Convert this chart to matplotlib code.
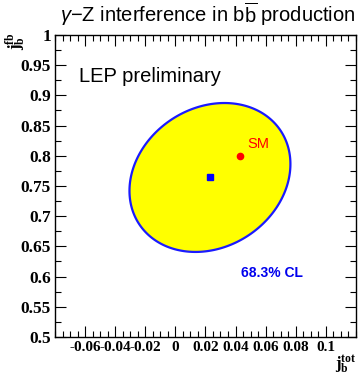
# gamma-Z interference in b bbar production: LEP 68.3% CL contour
import numpy as np
import matplotlib
matplotlib.use('Agg')
import matplotlib.pyplot as plt
from matplotlib.ticker import MultipleLocator

# -----------------------------
# Data
# -----------------------------
fit_center = [0.023, 0.764]     # measured (j_b^tot, j_b^fb)
fit_sigma = [0.0535, 0.1233]    # 68.3% CL half-extent in x and y
fit_rho = 0.18                  # correlation
sm_point = [0.043, 0.800]       # Standard Model
x_ticks = [-0.06, -0.04, -0.02, 0, 0.02, 0.04, 0.06, 0.08, 0.1]
x_tick_labels = ['-0.06', '-0.04', '-0.02', '0', '0.02', '0.04', '0.06', '0.08', '0.1']
y_ticks = [0.5, 0.55, 0.6, 0.65, 0.7, 0.75, 0.8, 0.85, 0.9, 0.95, 1]
y_tick_labels = ['0.5', '0.55', '0.6', '0.65', '0.7', '0.75', '0.8', '0.85', '0.9', '0.95', '1']

plt.rcParams['font.family'] = ['Liberation Sans', 'DejaVu Sans']
plt.rcParams['mathtext.fontset'] = 'custom'
plt.rcParams['mathtext.rm'] = 'Liberation Sans'
plt.rcParams['mathtext.it'] = 'Liberation Sans:italic'
plt.rcParams['mathtext.bf'] = 'Liberation Serif:bold'

fig = plt.figure(figsize=(3.62, 3.76), dpi=100)
ax = fig.add_axes([0.152, 0.104, 0.831, 0.803])

# contour from the correlated errors
t = np.linspace(0, 2 * np.pi, 400, endpoint=False)
ex = fit_center[0] + fit_sigma[0] * np.cos(t)
ey = fit_center[1] + fit_sigma[1] * (fit_rho * np.cos(t) + np.sqrt(1 - fit_rho**2) * np.sin(t))
ax.fill(ex, ey, facecolor='#ffff00', edgecolor='#1a1aff', lw=1.6, joinstyle='round', zorder=1)

ax.plot(fit_center[0], fit_center[1], 's', color='#0000ff', ms=4.5, zorder=3)
ax.plot(sm_point[0], sm_point[1], 'o', color='#ff0000', ms=4.5, zorder=3)
ax.text(sm_point[0] + 0.005, sm_point[1] + 0.012, 'SM', color='#ff0000', fontsize=10.5)

ax.text(-0.064, 0.922, 'LEP preliminary', fontsize=14.5)
ax.text(0.0435, 0.6, '68.3% CL', color='#0000ee', fontsize=10, fontweight='bold')

ax.set_xlim(-0.08, 0.12)
ax.set_ylim(0.5, 1.0)
ax.set_xticks(x_ticks)
ax.set_xticklabels(x_tick_labels)
ax.set_yticks(y_ticks)
ax.set_yticklabels(y_tick_labels)
ax.xaxis.set_minor_locator(MultipleLocator(0.005))
ax.yaxis.set_minor_locator(MultipleLocator(0.025))
ax.tick_params(which='both', direction='in', top=True, right=True, width=0.8)
ax.tick_params(which='major', length=8, pad=3)
ax.tick_params(which='minor', length=4)
for lab in ax.get_xticklabels():
    lab.set_family('Liberation Serif')
    lab.set_fontweight('bold')
    lab.set_fontsize(11)
for lab in ax.get_yticklabels():
    lab.set_family('Liberation Serif')
    lab.set_fontweight('bold')
    lab.set_fontsize(12.5)
for s in ax.spines.values():
    s.set_linewidth(1.0)

fig.text(0.575, 0.962, r'$\mathit{\gamma}$$-$Z interference in b$\overline{\mathrm{b}}$ production',
         ha='center', va='center', fontsize=14.5)
fig.text(0.045, 0.89, r'$\mathbf{j_b^{fb}}$', rotation=90, ha='center', va='center', fontsize=12)
fig.text(0.955, 0.03, r'$\mathbf{j_b^{tot}}$', ha='center', va='center', fontsize=12)

fig.savefig('out.png', dpi=100)
